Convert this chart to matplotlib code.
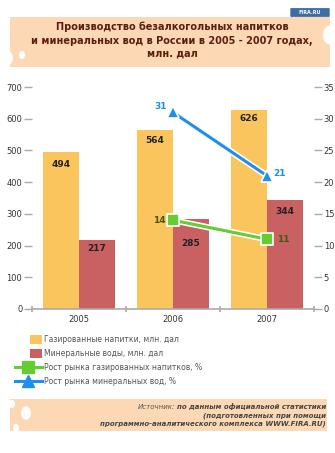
import matplotlib
matplotlib.use("Agg")
import matplotlib.pyplot as plt
from matplotlib.patches import Rectangle, Circle, FancyBboxPatch
from matplotlib.lines import Line2D
import numpy as np

plt.rcParams['font.family'] = ['DejaVu Sans']

years = ['2005', '2006', '2007']
soda = [494, 564, 626]
mineral = [217, 285, 344]
soda_growth = [14, 11]
mineral_growth = [31, 21]
growth_years = [1, 2]

legend_labels = ['Газированные напитки, млн. дал',
                 'Минеральные воды, млн. дал',
                 'Рост рынка газированных напитков, %',
                 'Рост рынка минеральных вод, %']

c_soda = '#FBC55E'
c_min = '#C96163'
c_green = '#66CC33'
c_blue = '#1E8FEA'

W, H = 335, 453
fig = plt.figure(figsize=(W / 100, H / 100), dpi=100)

def fx(px):
    return px / W

def fy(py):
    return 1 - py / H

# title band
fig.patches.append(Rectangle((fx(10), fy(67)), fx(320), 50 / H, transform=fig.transFigure,
                             facecolor='#FDD8B4', edgecolor='none', zorder=0))
for cx, cy, r in [(8, 58, 5), (22, 55, 3), (330, 35, 7)]:
    fig.patches.append(Circle((fx(cx), fy(cy)), r / W, transform=fig.transFigure,
                              facecolor='white', edgecolor='none', zorder=1))
title = ['Производство безалкогольных напитков',
         'и минеральных вод в России в 2005 - 2007 годах,',
         'млн. дал']
for i, t in enumerate(title):
    fig.text(fx(172), fy(27 + i * 13.5), t, ha='center', va='center', fontsize=7,
             fontweight='bold', color='#5C1E0E')

# logo
fig.patches.append(FancyBboxPatch((fx(291), fy(16)), fx(38), 7 / H, transform=fig.transFigure,
                                  boxstyle='round,pad=0.002', facecolor='#3A6EA5', edgecolor='none'))
fig.text(fx(310), fy(12.5), 'FIRA.RU', ha='center', va='center', fontsize=3.5,
         color='white', fontweight='bold')

# main axes
ax = fig.add_axes([fx(32), fy(309), fx(282), 222 / H])
x = np.arange(len(years))
bw = 0.38
ax.bar(x + 0.5 - bw / 2, soda, bw, color=c_soda, zorder=2)
ax.bar(x + 0.5 + bw / 2, mineral, bw, color=c_min, zorder=2)

# value labels sit a few pixels under the bar top (2006 red one pushed down, away from the marker)
soda_off = [-12, -10, -8]
min_off = [-8, -25, -12]
for i in range(len(years)):
    ax.annotate(str(soda[i]), (x[i] + 0.5 - bw / 2, soda[i]), xytext=(0, soda_off[i] * 0.72),
                textcoords='offset points', ha='center', va='center',
                fontsize=6.5, fontweight='bold', color='#222222', zorder=5)
    ax.annotate(str(mineral[i]), (x[i] + 0.5 + bw / 2, mineral[i]), xytext=(0, min_off[i] * 0.72),
                textcoords='offset points', ha='center', va='center',
                fontsize=6.5, fontweight='bold', color='#222222', zorder=5)

ax.set_xlim(0, 3)
ax.set_ylim(0, 700)
ax.set_yticks(range(0, 701, 100))
ax.set_xticks(x + 0.5)
ax.set_xticklabels(years)
ax.set_xticks([0, 1, 2, 3], minor=True)
for s in ['top', 'left', 'right']:
    ax.spines[s].set_visible(False)
ax.spines['bottom'].set_color('#aaaaaa')
ax.spines['bottom'].set_linewidth(1.2)
ax.tick_params(axis='y', length=6, width=1, color='#aaaaaa', labelsize=6, labelcolor='#333333', pad=1)
ax.tick_params(axis='x', which='major', length=0, labelsize=6, labelcolor='#333333', pad=4)
ax.tick_params(axis='x', which='minor', length=5, width=1.2, color='#aaaaaa', direction='inout')

ax2 = ax.twinx()
ax2.set_ylim(0, 35)
ax2.set_yticks(range(0, 36, 5))
for s in ['top', 'left', 'right', 'bottom']:
    ax2.spines[s].set_visible(False)
ax2.tick_params(axis='y', length=6, width=1, color='#aaaaaa', labelsize=6, labelcolor='#333333', pad=1)

gx = np.array(growth_years) + 0.5
ax2.plot(gx, soda_growth, color='white', lw=4.5, zorder=3)
ax2.plot(gx, soda_growth, color=c_green, lw=2.2, marker='s', ms=9, mfc=c_green,
         mec='white', mew=1.2, zorder=4)
ax2.plot(gx, mineral_growth, color='white', lw=4.5, zorder=3)
ax2.plot(gx, mineral_growth, color=c_blue, lw=2.2, marker='^', ms=9, mfc=c_blue,
         mec='white', mew=1.2, zorder=4)
ax2.text(gx[0] - 0.15, soda_growth[0], str(soda_growth[0]), ha='center', va='center',
         fontsize=6.5, fontweight='bold', color='#3F5A10', zorder=6)
ax2.text(gx[1] + 0.17, soda_growth[1], str(soda_growth[1]), ha='center', va='center',
         fontsize=6.5, fontweight='bold', color='#3F5A10', zorder=6)
ax2.text(gx[0] - 0.13, mineral_growth[0] + 1, str(mineral_growth[0]), ha='center', va='center',
         fontsize=6.5, fontweight='bold', color=c_blue, zorder=6)
ax2.text(gx[1] + 0.13, mineral_growth[1] + 0.3, str(mineral_growth[1]), ha='center', va='center',
         fontsize=6.5, fontweight='bold', color=c_blue, zorder=6)

# legend
ly = [339, 353, 367, 381]
for i, c in enumerate([c_soda, c_min]):
    fig.patches.append(Rectangle((fx(30), fy(ly[i] + 4.5)), fx(12), 9 / H, transform=fig.transFigure,
                                 facecolor=c, edgecolor='none'))
for i, (c, m) in enumerate([(c_green, 's'), (c_blue, '^')]):
    y = fy(ly[i + 2])
    fig.lines.append(Line2D([fx(15), fx(42)], [y, y], transform=fig.transFigure, color=c, lw=2.2))
    fig.lines.append(Line2D([fx(28)], [y], transform=fig.transFigure, color=c, marker=m, ms=8,
                            mec=c))
for i, t in enumerate(legend_labels):
    fig.text(fx(44), fy(ly[i]), t, ha='left', va='center', fontsize=5.5, color='#555555')

# source band
fig.patches.append(Rectangle((fx(10), fy(431)), fx(317), 32 / H, transform=fig.transFigure,
                             facecolor='#FDD8B4', edgecolor='none', zorder=0))
for cx, cy, r in [(12, 404, 3), (26, 413, 5), (16, 428, 3)]:
    fig.patches.append(Circle((fx(cx), fy(cy)), r / W, transform=fig.transFigure,
                              facecolor='white', edgecolor='none', zorder=1))
src = ['по данным официальной статистики',
       '(подготовленных при помощи',
       'программно-аналитического комплекса WWW.FIRA.RU)']
txts = []
for i, t in enumerate(src):
    txts.append(fig.text(fx(326), fy(407 + i * 8.3), t, ha='right', va='center', fontsize=5,
                         fontweight='bold', style='italic', color='#444444'))
fig.canvas.draw()
bb = txts[0].get_window_extent(fig.canvas.get_renderer())
fig.text(bb.x0 / W - fx(2), fy(407), 'Источник:', ha='right', va='center', fontsize=5,
         style='italic', color='#555555')

fig.savefig('out.png', dpi=100)
